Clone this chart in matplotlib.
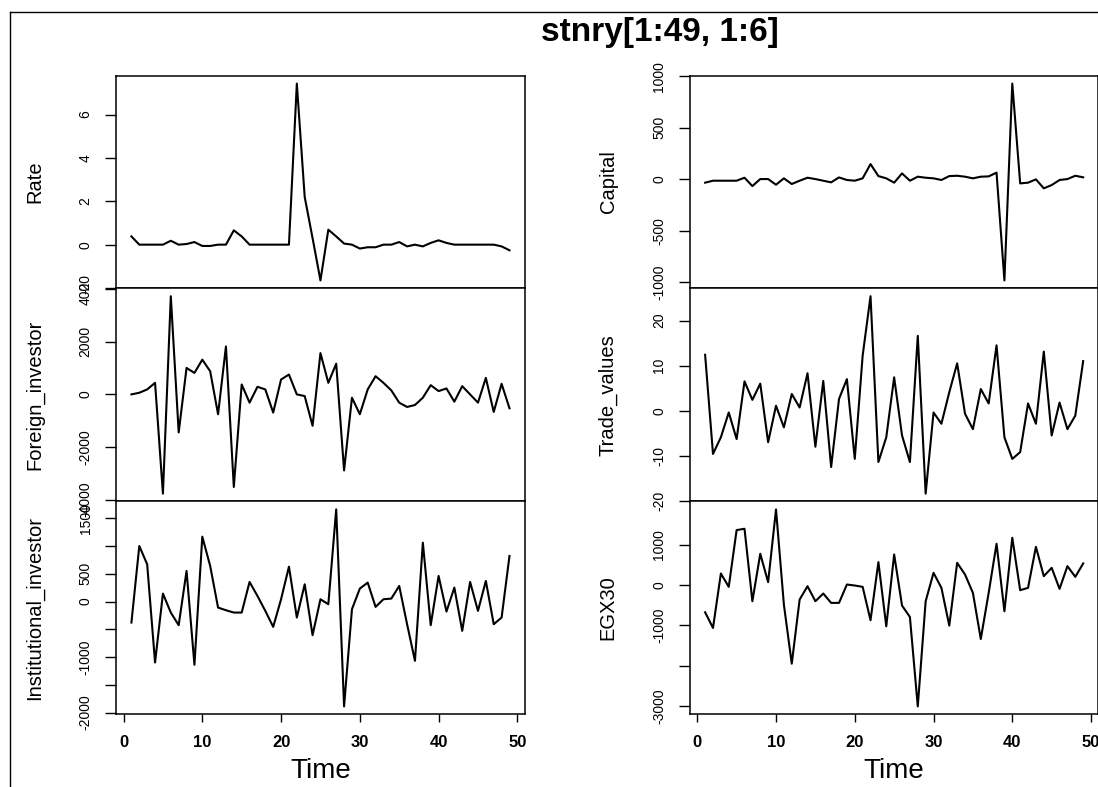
import numpy as np
import matplotlib
matplotlib.use("Agg")
import matplotlib.pyplot as plt

plt.rcParams['font.family'] = ['Liberation Sans', 'DejaVu Sans']

time = np.arange(1, 50)

rate = [0.38, 0, 0, 0, 0, 0.18, 0, 0.03, 0.12, -0.06,
        -0.06, 0, 0, 0.66, 0.38, 0, 0, 0, 0, 0,
        0, 7.43, 2.2, 0.3, -1.65, 0.69, 0.38, 0.05, 0, -0.18,
        -0.12, -0.12, 0, 0, 0.12, -0.08, 0, -0.08, 0.08, 0.2,
        0.08, 0, 0, 0, 0, 0, 0, -0.08, -0.26]

capital = [-32, -13, -13, -13, -13, 16, -65, 3, 3, -52,
           10, -45, -13, 16, 3, -13, -29, 19, -6, -13,
           10, 148, 32, 10, -32, 58, -13, 26, 16, 10,
           -6, 32, 35, 26, 10, 26, 29, 65, -980, 929,
           -39, -32, 0, -87, -55, -6, 3, 35, 20]

foreign_investor = [0, 63, 189, 440, -3774, 3736, -1447, 1006, 818, 1321,
                    880, -755, 1824, -3522, 377, -314, 289, 189, -692, 566,
                    755, 0, -63, -1195, 1572, 440, 1170, -2893, -126, -755,
                    189, 692, 440, 151, -314, -478, -403, -126, 352, 126,
                    226, -277, 314, 0, -314, 629, -667, 403, -528]

trade_values = [12.4, -9.6, -5.9, -0.4, -6.3, 6.5, 2.4, 6.0, -7.0, 1.1,
                -3.7, 3.7, 0.7, 8.3, -8.0, 6.6, -12.5, 2.6, 7.0, -10.7,
                12.2, 25.4, -11.4, -5.9, 7.4, -5.5, -11.4, 16.6, -18.4, -0.4,
                -2.9, 4.1, 10.5, -0.7, -4.1, 4.8, 1.6, 14.5, -5.9, -10.7,
                -9.2, 1.6, -2.9, 13.1, -5.5, 1.8, -4.1, -1.1, 11.0]

institutional_investor = [-378, 1002, 672, -1098, 144, -198, -426, 552, -1140, 1170,
                          642, -108, -156, -198, -198, 354, 102, -168, -456, 42,
                          630, -288, 312, -606, 42, -48, 1662, -1890, -138, 234,
                          342, -96, 42, 54, 282, -408, -1068, 1062, -426, 462,
                          -180, 252, -528, 354, -168, 372, -408, -288, 822]

egx30 = [-672, -1061, 290, -41, 1368, 1401, -398, 779, 75, 1882,
         -481, -1948, -356, -25, -398, -207, -439, -439, 17, -8,
         -41, -870, 572, -1020, 763, -506, -788, -3009, -398, 307,
         -66, -1003, 555, 265, -191, -1335, -191, 1028, -647, 1177,
         -124, -66, 953, 224, 431, -91, 473, 207, 540]

# y ticks and the labels R kept (blank = dropped because of overlap)
rate_ticks = [-2, 0, 2, 4, 6]
rate_labels = ['-2', '0', '2', '4', '6']
capital_ticks = [-1000, -500, 0, 500, 1000]
capital_labels = ['-1000', '-500', '0', '500', '1000']
foreign_ticks = [-4000, -2000, 0, 2000, 4000]
foreign_labels = ['-4000', '-2000', '0', '2000', '4000']
trade_ticks = [-20, -10, 0, 10, 20]
trade_labels = ['-20', '-10', '0', '10', '20']
inst_ticks = [-2000, -1500, -1000, -500, 0, 500, 1000, 1500]
inst_labels = ['-2000', '', '-1000', '', '0', '500', '', '1500']
egx_ticks = [-3000, -2000, -1000, 0, 1000]
egx_labels = ['-3000', '', '-1000', '0', '1000']
x_ticks = [0, 10, 20, 30, 40, 50]

panels = [
    ("Rate", rate, rate_ticks, rate_labels),
    ("Capital", capital, capital_ticks, capital_labels),
    ("Foreign_investor", foreign_investor, foreign_ticks, foreign_labels),
    ("Trade_values", trade_values, trade_ticks, trade_labels),
    ("Institutional_investor", institutional_investor, inst_ticks, inst_labels),
    ("EGX30", egx30, egx_ticks, egx_labels),
]

W, H = 1098, 787
fig = plt.figure(figsize=(W / 100, H / 100), dpi=100)

# figure frame (left and top edge of the R device window)
fig.add_artist(plt.Line2D([10 / W, 10 / W], [0, 1 - 12 / H], color='black', lw=1))
fig.add_artist(plt.Line2D([10 / W, 1], [1 - 12 / H, 1 - 12 / H], color='black', lw=1))

col_x = [116.3, 690.0]
row_y = [75.7, 288.3, 501.5, 714.3]
pw = 408.3

for i, (name, values, ticks, labels) in enumerate(panels):
    row, col = i // 2, i % 2
    top, bot = row_y[row], row_y[row + 1]
    ax = fig.add_axes([col_x[col] / W, 1 - bot / H, pw / W, (bot - top) / H])
    ax.plot(time, values, color='black', lw=1.5)
    ax.margins(x=0.04, y=0.04)
    ax.set_yticks(ticks)
    ax.set_yticklabels(labels, rotation=90, va='center', fontsize=10)
    ax.tick_params(axis='y', length=8, width=1, pad=9)
    ax.set_ylabel(name, fontsize=14.5, va='center')
    ax.yaxis.set_label_coords(-0.2, 0.5)
    for s in ax.spines.values():
        s.set_linewidth(1.1)
    if row == 2:
        ax.set_xticks(x_ticks)
        ax.set_xticklabels([str(t) for t in x_ticks], fontsize=12, fontweight='bold')
        ax.tick_params(axis='x', length=6, width=1, pad=9)
        ax.set_xlabel("Time", fontsize=20, va='center')
        ax.xaxis.set_label_coords(0.5, -0.266)
    else:
        ax.set_xticks([])

fig.text(660 / W, 1 - 32 / H, "stnry[1:49, 1:6]", ha='center', va='center',
         fontsize=24, fontweight='bold')

fig.savefig("out.png", dpi=100)
